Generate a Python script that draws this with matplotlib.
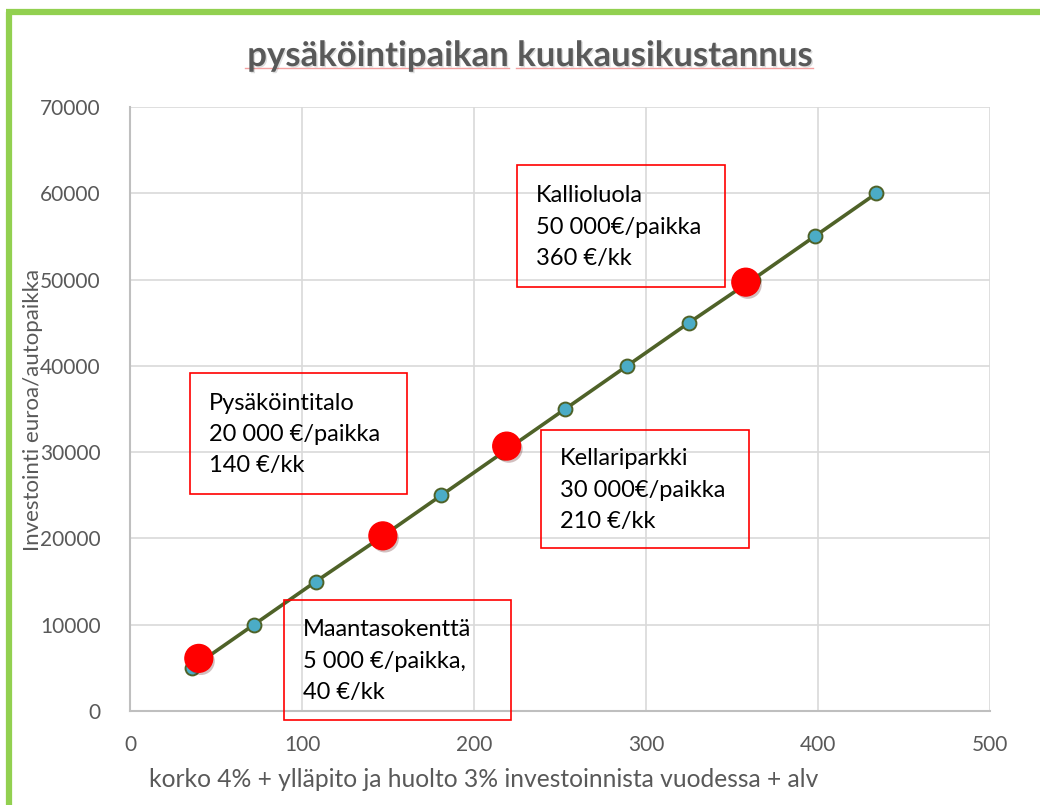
"""Monthly cost of a parking space versus the investment per space."""

import matplotlib.patheffects as pe
import matplotlib.pyplot as plt
from matplotlib.lines import Line2D
from matplotlib.patches import Rectangle

plt.rcParams["font.family"] = ["Lato", "DejaVu Sans"]

# monthly cost (€/kk) for each investment level (€/autopaikka)
cost = [36, 72, 108, 145, 181, 217, 253, 289, 325, 362, 398, 434]
investment = [5000, 10000, 15000, 20000, 25000, 30000, 35000, 40000,
              45000, 50000, 55000, 60000]

# highlighted parking types
site_cost = [40, 147, 219, 358]
site_investment = [6100, 20300, 30700, 49700]
site_labels = [
    "Maantasokenttä\n5 000 €/paikka,\n40 €/kk",
    "Pysäköintitalo\n20 000 €/paikka\n140 €/kk",
    "Kellariparkki\n30 000€/paikka\n210 €/kk",
    "Kallioluola\n50 000€/paikka\n360 €/kk",
]
# label boxes in figure pixels: left, top, right, bottom
site_boxes = [
    (284, 600, 511, 720),
    (190, 373, 407, 494),
    (541, 430, 749, 548),
    (517, 165, 725, 287),
]

title = "pysäköintipaikan kuukausikustannus"
x_label = "korko 4% + ylläpito ja huolto 3% investoinnista vuodessa + alv"
y_label = "Investointi euroa/autopaikka"
x_ticks = [0, 100, 200, 300, 400, 500]
y_ticks = [0, 10000, 20000, 30000, 40000, 50000, 60000, 70000]

W, H = 1040, 805
grey = "#595959"

fig = plt.figure(figsize=(W / 100, H / 100), dpi=100)
ax = fig.add_axes([130 / W, 1 - 711 / H, 860 / W, 604 / H])


def px(x, y):
    """Figure pixels (origin top-left) to figure fraction."""
    return x / W, 1 - y / H


# green frame
fig.add_artist(Line2D([9 / W, 9 / W], [0, 1 - 12 / H], color="#92d050",
                      lw=4.5, solid_capstyle="butt", transform=fig.transFigure))
fig.add_artist(Line2D([6 / W, 1], [1 - 12 / H, 1 - 12 / H], color="#92d050",
                      lw=4.5, solid_capstyle="butt", transform=fig.transFigure))

ax.plot(cost, investment, color="#4f6228", lw=2.6, marker="o", ms=10,
        mfc="#4bacc6", mec="#4f6228", mew=1.4, zorder=3)
ax.plot(site_cost, site_investment, ls="none", marker="o", ms=20,
        mfc="#ff0000", mec="#ff0000", zorder=4,
        path_effects=[pe.SimplePatchShadow(offset=(1.5, -2), alpha=0.25),
                      pe.Normal()])

ax.set_xlim(0, 500)
ax.set_ylim(0, 70000)
ax.set_xticks(x_ticks)
ax.set_yticks(y_ticks)
ax.grid(True, color="#d9d9d9", lw=1.2)
ax.set_axisbelow(True)
for side in ("top", "right"):
    ax.spines[side].set_visible(False)
for side in ("left", "bottom"):
    ax.spines[side].set_color("#bfbfbf")
    ax.spines[side].set_linewidth(1.5)
ax.tick_params(length=0, labelsize=15, labelcolor=grey)
ax.tick_params(axis="x", pad=17)
ax.tick_params(axis="y", pad=21)

fig.text(*px(484, 779), x_label, ha="center", va="center", fontsize=17.7,
         color=grey)
fig.text(*px(33, 410), y_label, ha="center", va="center", rotation=90,
         fontsize=16, color=grey)

fig.text(*px(530, 56), title, ha="center", va="center", fontsize=25,
         fontweight="bold", color=grey,
         path_effects=[pe.withSimplePatchShadow(offset=(1, -1), alpha=0.15)])
for x0, x1 in [(245, 509), (516, 813)]:
    fig.add_artist(Line2D([x0 / W, x1 / W], [1 - 68 / H, 1 - 68 / H],
                          color="#f4a0a0", lw=1, transform=fig.transFigure))

for label, (left, top, right, bottom) in zip(site_labels, site_boxes):
    x0, y0 = px(left, bottom)
    fig.add_artist(Rectangle((x0, y0), (right - left) / W, (bottom - top) / H,
                             transform=fig.transFigure, fill=False,
                             edgecolor="#ff0000", lw=1.2, zorder=5))
    fig.text(*px(left + 19, (top + bottom) / 2 + 1), label, ha="left",
             va="center", fontsize=17, color="black", linespacing=1.6,
             zorder=6)

fig.savefig("out.png", dpi=100)
